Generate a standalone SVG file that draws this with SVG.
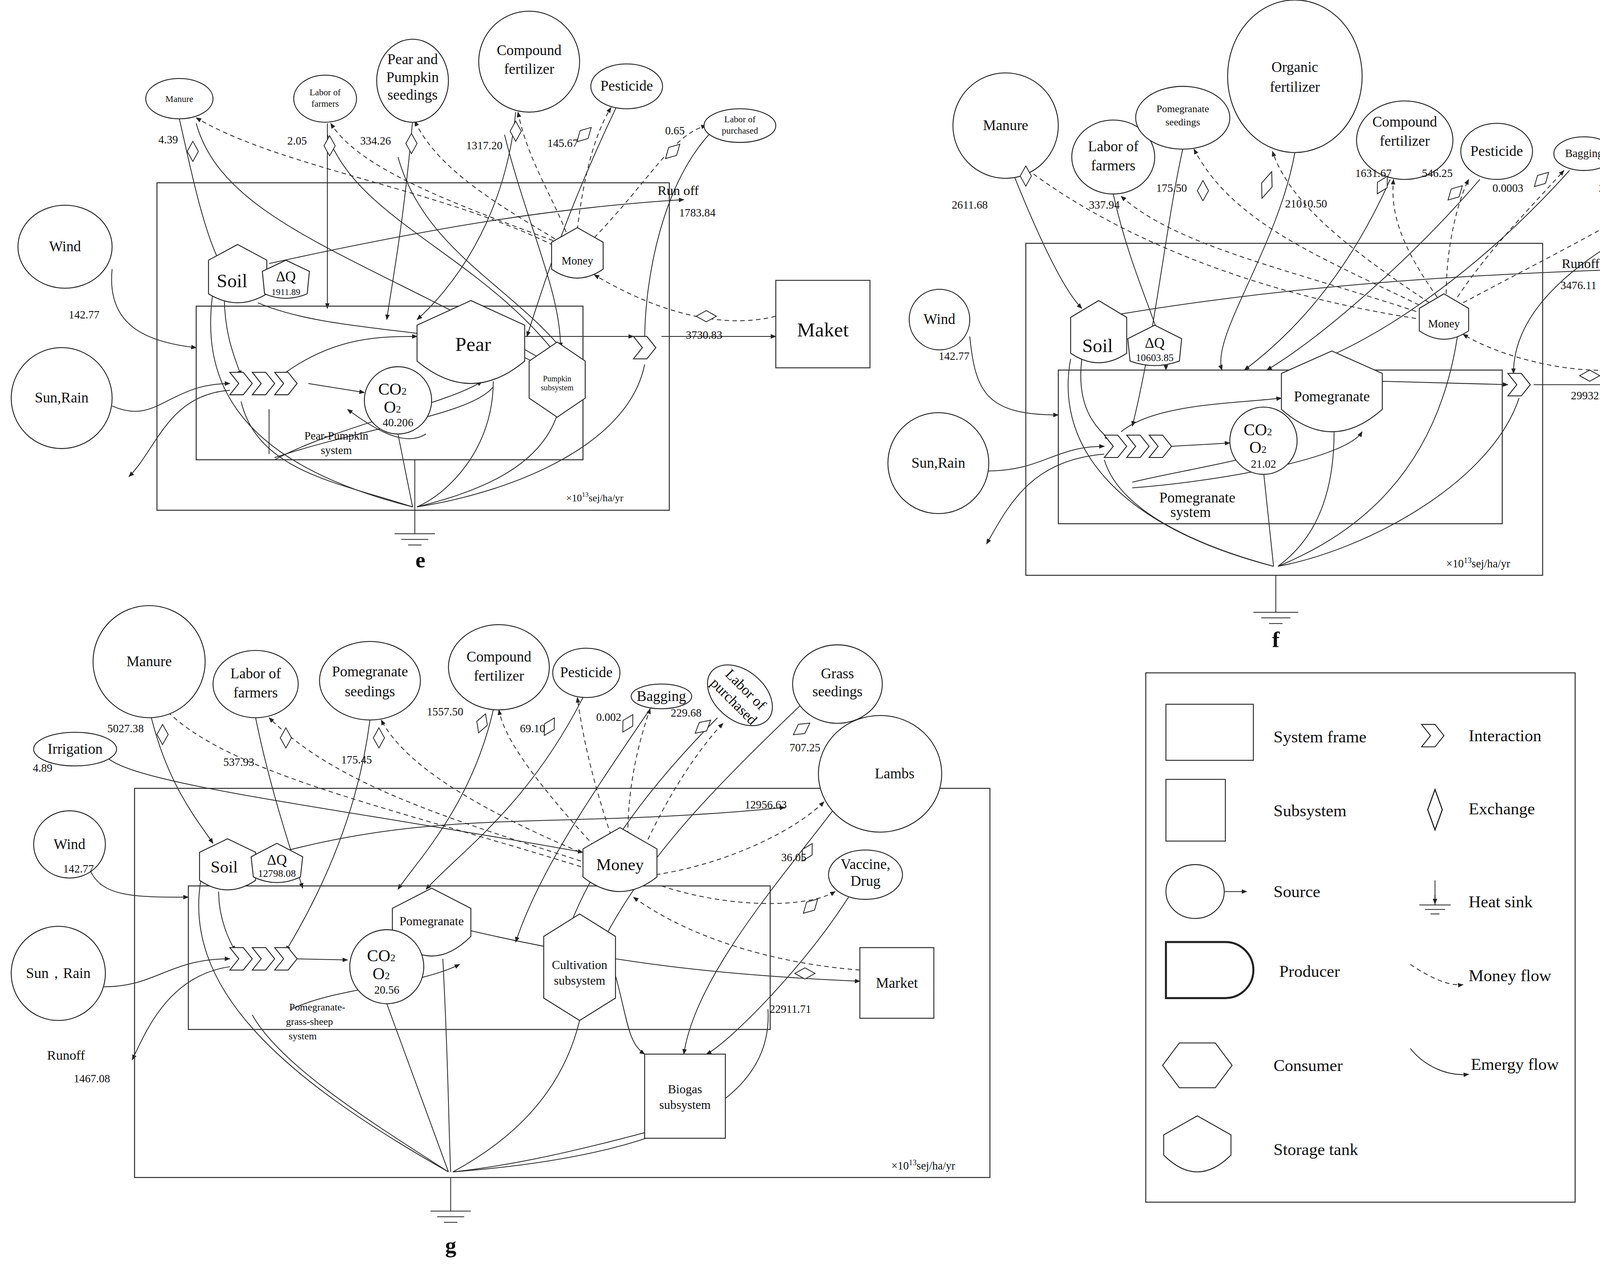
<svg xmlns="http://www.w3.org/2000/svg" xmlns:xlink="http://www.w3.org/1999/xlink" width="4500" height="3240" viewBox="0 0 4500 3240">
<style>
.s{fill:none;stroke:#222;stroke-width:0.7}
.d{fill:none;stroke:#222;stroke-width:0.7;stroke-dasharray:4,3}
.sh{fill:#fff;stroke:#222;stroke-width:0.8}
.fr{fill:none;stroke:#333;stroke-width:0.9}
text{font-family:"Liberation Serif","Times New Roman",serif;fill:#111}
.t{font-size:13px;text-anchor:middle}
.n{font-size:10px;text-anchor:middle}
.sm{font-size:8px;text-anchor:middle}
.lg{font-size:15px}
</style>
<defs>
<marker id="a" viewBox="0 0 10 10" refX="9" refY="5" markerWidth="5" markerHeight="5" markerUnits="userSpaceOnUse" orient="auto"><path d="M0,1 L10,5 L0,9z" fill="#222"/></marker>
<path id="dia" d="M0,-9 L5,0 0,9 -5,0Z" fill="#fff" stroke="#222" stroke-width="0.7"/>
<path id="chev" d="M0,-10 L12,-10 20,0 12,10 0,10 8,0Z" fill="#fff" stroke="#222" stroke-width="0.8"/>
</defs>
<rect width="4500" height="3240" fill="#fff"/>
<g transform="scale(2.87)">
<!-- ================= connectors ================= -->
<g id="connectors" marker-end="url(#a)">
<!-- panel e solid -->
<path class="s" d="M160,106 C170,150 180,200 195,232"/>
<path class="s" d="M100,240 C95,290 130,305 175,310"/>
<path class="s" d="M100,362 C140,380 150,342 205,342"/>
<path class="s" d="M205,348 C150,352 140,400 115,425"/>
<path class="s" d="M292,110 L292,275"/>
<path class="s" d="M368,108 C360,200 350,250 345,285"/>
<path class="s" d="M460,100 C450,200 400,260 372,285"/>
<path class="s" d="M550,95 C500,200 480,270 470,300"/>
<path class="s" d="M640,112 C590,160 575,250 575,305"/>
<path class="s" d="M200,262 C200,300 210,320 215,335"/>
<path class="s" d="M275,342 L325,350"/>
<path class="s" d="M255,332 C300,300 340,300 372,300"/>
<path class="s" d="M468,300 L565,300"/>
<path class="s" d="M590,300 L692,300"/>
<path class="s" d="M240,235 C400,200 500,185 610,178"/>
<path class="s" d="M175,110 C200,200 330,230 500,330"/>
<path class="s" d="M292,120 C320,200 440,230 510,335"/>
<path class="s" d="M230,270 C300,300 420,290 480,325"/>
<path class="s" d="M355,140 C380,230 470,260 515,330"/>
<path class="s" d="M450,120 C470,200 500,260 500,310"/>
<path class="s" d="M380,387 C360,400 330,380 310,365"/>
<path class="s" d="M245,410 C300,380 400,360 430,340"/>
<path class="s" d="M245,408 C330,380 420,370 440,345" marker-end="none"/>
<path class="s" d="M240,405 L240,365" marker-end="none"/>
<path class="s" d="M215,358 C230,420 300,430 368,452" marker-end="none"/>
<path class="s" d="M190,260 C180,330 200,410 368,452" marker-end="none"/>
<path class="s" d="M355,387 L368,452" marker-end="none"/>
<path class="s" d="M440,340 C440,400 400,440 372,452" marker-end="none"/>
<path class="s" d="M497,370 C480,420 420,440 372,452" marker-end="none"/>
<path class="s" d="M575,325 C560,400 450,440 372,452" marker-end="none"/>
<!-- panel e dashed -->
<path class="d" d="M500,222 C400,170 250,150 175,105"/>
<path class="d" d="M500,217 C400,180 320,150 295,110"/>
<path class="d" d="M495,213 C440,180 390,150 370,108"/>
<path class="d" d="M505,207 C490,170 470,140 462,100"/>
<path class="d" d="M515,205 C520,160 530,120 545,96"/>
<path class="d" d="M530,212 C580,160 600,120 630,112"/>
<path class="d" d="M692,282 C640,295 580,275 530,245"/>
<!-- panel f solid -->
<path class="s" d="M905,158 C930,220 950,260 965,275"/>
<path class="s" d="M865,300 C870,350 880,370 944,370"/>
<path class="s" d="M880,420 C930,420 940,398 985,398"/>
<path class="s" d="M985,405 C920,410 900,450 880,485"/>
<path class="s" d="M993,173 C1010,250 1040,300 1040,330"/>
<path class="s" d="M1055,133 C1040,200 1030,300 1010,380"/>
<path class="s" d="M1155,136 C1140,220 1080,300 1090,330"/>
<path class="s" d="M1240,160 C1200,250 1150,300 1110,330"/>
<path class="s" d="M1320,160 C1260,230 1180,300 1130,330"/>
<path class="s" d="M1400,152 C1330,230 1240,300 1160,328"/>
<path class="s" d="M1500,185 C1400,230 1350,280 1350,333"/>
<path class="s" d="M965,320 C960,360 975,380 990,392"/>
<path class="s" d="M1045,398 L1097,395"/>
<path class="s" d="M1233,340 L1345,343"/>
<path class="s" d="M1368,343 L1467,343"/>
<path class="s" d="M1000,280 C1150,255 1300,245 1455,240"/>
<path class="s" d="M1000,385 C1030,360 1100,360 1143,355"/>
<path class="s" d="M1010,430 C1050,420 1120,410 1153,395"/>
<path class="s" d="M1010,435 C1080,430 1200,410 1215,385"/>
<path class="s" d="M985,410 C1000,460 1080,490 1136,505" marker-end="none"/>
<path class="s" d="M955,320 C940,400 1000,470 1136,505" marker-end="none"/>
<path class="s" d="M1127,420 L1136,505" marker-end="none"/>
<path class="s" d="M1190,385 C1190,460 1160,490 1140,505" marker-end="none"/>
<path class="s" d="M1355,355 C1330,430 1220,490 1140,505" marker-end="none"/>
<path class="s" d="M1300,300 C1280,430 1200,480 1140,505" marker-end="none"/>
<!-- panel f dashed -->
<path class="d" d="M1270,285 C1100,260 980,200 915,150"/>
<path class="d" d="M1270,280 C1150,240 1050,220 1000,175"/>
<path class="d" d="M1272,275 C1180,230 1100,200 1065,133"/>
<path class="d" d="M1275,270 C1200,220 1150,180 1135,135"/>
<path class="d" d="M1282,265 C1250,220 1240,190 1243,160"/>
<path class="d" d="M1290,262 C1290,220 1300,180 1310,160"/>
<path class="d" d="M1300,265 C1330,220 1370,180 1395,152"/>
<path class="d" d="M1305,270 C1380,230 1440,200 1478,175"/>
<path class="d" d="M1467,325 C1420,340 1340,320 1305,298"/>
<!-- panel g solid -->
<path class="s" d="M135,640 C150,700 175,730 190,752"/>
<path class="s" d="M95,675 C120,700 300,720 520,760"/>
<path class="s" d="M80,775 C90,800 120,800 168,800"/>
<path class="s" d="M92,880 C140,880 150,855 205,855"/>
<path class="s" d="M205,862 C150,870 130,920 118,945"/>
<path class="s" d="M228,640 C240,700 260,760 270,792"/>
<path class="s" d="M330,642 C320,720 290,790 255,848"/>
<path class="s" d="M440,633 C420,720 370,770 355,793"/>
<path class="s" d="M520,622 C470,720 410,760 380,793"/>
<path class="s" d="M580,632 C520,720 480,780 460,840"/>
<path class="s" d="M640,640 C560,720 520,790 505,835"/>
<path class="s" d="M715,628 C640,700 580,760 540,835"/>
<path class="s" d="M745,720 C700,780 620,870 610,940"/>
<path class="s" d="M760,795 C720,860 650,930 630,940"/>
<path class="s" d="M195,795 C195,820 205,840 210,848"/>
<path class="s" d="M265,855 L310,856"/>
<path class="s" d="M250,760 C400,720 500,740 700,720"/>
<path class="s" d="M420,830 C550,860 650,870 767,875"/>
<path class="s" d="M549,870 C560,910 560,930 575,940"/>
<path class="s" d="M260,900 C300,880 370,880 410,860"/>
<path class="s" d="M225,905 C250,950 330,1000 400,1045" marker-end="none"/>
<path class="s" d="M180,780 C160,880 250,960 400,1045" marker-end="none"/>
<path class="s" d="M345,895 L400,1045" marker-end="none"/>
<path class="s" d="M395,855 C400,950 400,1000 402,1045" marker-end="none"/>
<path class="s" d="M517,910 C500,980 450,1020 404,1045" marker-end="none"/>
<path class="s" d="M575,1010 C500,1030 450,1040 404,1045" marker-end="none"/>
<path class="s" d="M685,900 C690,980 600,1030 404,1045" marker-end="none"/>
<!-- panel g dashed -->
<path class="d" d="M525,775 C350,720 200,690 145,630"/>
<path class="d" d="M525,770 C400,730 300,700 240,640"/>
<path class="d" d="M530,765 C420,720 360,680 340,642"/>
<path class="d" d="M535,760 C480,700 450,660 445,633"/>
<path class="d" d="M545,745 C530,700 520,660 515,622"/>
<path class="d" d="M560,745 C560,700 570,660 580,632"/>
<path class="d" d="M575,755 C600,700 630,660 645,645"/>
<path class="d" d="M585,780 C650,770 710,740 735,715"/>
<path class="d" d="M590,790 C650,810 720,810 745,795"/>
<path class="d" d="M767,865 C700,860 620,840 565,800"/>
</g>
<!-- ================= panel e nodes ================= -->
<g id="e-frame"><rect class="fr" x="140" y="163" width="457" height="292"/><rect class="fr" x="175" y="273" width="345" height="137"/><text class="n" x="300" y="392">Pear-Pumpkin</text><text class="n" x="300" y="405">system</text><text x="505" y="447" style="font-size:9px">×10<tspan dy="-4" style="font-size:6px">13</tspan><tspan dy="4">sej/ha/yr</tspan></text></g>
<g id="e-manure"><ellipse class="sh" cx="160" cy="88" rx="30" ry="18"/><text class="sm" x="160" y="91">Manure</text></g>
<g id="e-labor"><ellipse class="sh" cx="290" cy="88" rx="28" ry="21"/><text class="sm" x="290" y="85">Labor of</text><text class="sm" x="290" y="95">farmers</text></g>
<g id="e-seed"><ellipse class="sh" cx="368" cy="72" rx="32" ry="37"/><text class="t" x="368" y="57">Pear and</text><text class="t" x="368" y="73">Pumpkin</text><text class="t" x="368" y="89">seedings</text></g>
<g id="e-comp"><ellipse class="sh" cx="472" cy="55" rx="45" ry="45"/><text class="t" x="472" y="49">Compound</text><text class="t" x="472" y="66">fertilizer</text></g>
<g id="e-pest"><ellipse class="sh" cx="559" cy="77" rx="32" ry="20"/><text class="t" x="559" y="81">Pesticide</text></g>
<g id="e-labp"><ellipse class="sh" cx="660" cy="112" rx="32" ry="15"/><text class="sm" x="660" y="109">Labor of</text><text class="sm" x="660" y="119">purchased</text></g>
<g id="e-wind"><ellipse class="sh" cx="58" cy="220" rx="42" ry="37"/><text class="t" x="58" y="224">Wind</text></g>
<g id="e-sun"><ellipse class="sh" cx="55" cy="355" rx="45" ry="45"/><text class="t" x="55" y="359">Sun,Rain</text></g>
<g id="e-maket"><rect class="sh" x="692" y="250" width="84" height="78"/><text x="734" y="300" style="font-size:18px;text-anchor:middle">Maket</text></g>
<g id="e-soil"><path class="sh" d="M212,218 L238,232 L238,262 Q212,278 186,262 L186,232Z"/><text x="207" y="256" style="font-size:17px;text-anchor:middle">Soil</text><path class="sh" d="M255,232 L276,242 L274,262 Q255,270 236,262 L234,242Z"/><text class="t" x="255" y="251">ΔQ</text><text class="sm" x="255" y="263">1911.89</text></g>
<g id="e-money"><path class="sh" d="M515,203 L538,216 L538,240 Q515,256 492,240 L492,216Z"/><text class="n" x="515" y="236">Money</text></g>
<g id="e-pear"><path class="sh" d="M420,268 L468,290 L468,322 Q420,362 372,322 L372,290Z"/><text x="422" y="313" style="font-size:18px;text-anchor:middle">Pear</text></g>
<g id="e-co2"><circle class="sh" cx="355" cy="357" r="30"/><text x="350" y="352" style="font-size:15px;text-anchor:middle">CO<tspan style="font-size:9px">2</tspan></text><text x="350" y="368" style="font-size:15px;text-anchor:middle">O<tspan style="font-size:9px">2</tspan></text><text class="n" x="355" y="380">40.206</text></g>
<g id="e-int"><use href="#chev" x="205" y="342"/><use href="#chev" x="225" y="342"/><use href="#chev" x="245" y="342"/><use href="#chev" x="565" y="310"/></g>
<g id="e-pump"><path class="sh" d="M472,322 L497,305 L522,322 L522,355 L497,372 L472,355Z"/><text class="sm" x="497" y="340" style="font-size:7px">Pumpkin</text><text class="sm" x="497" y="348" style="font-size:7px">subsystem</text></g>
<g id="e-sink"><path class="s" d="M370,410 L370,476 M352,476 L388,476 M358,481 L382,481 M364,486 L376,486"/><text x="375" y="506" style="font-size:20px;font-weight:bold;text-anchor:middle">e</text></g>
<g id="e-ex"><use href="#dia" x="172" y="135"/><use href="#dia" x="294" y="130"/><use href="#dia" x="367" y="128"/><use href="#dia" x="460" y="117"/><use href="#dia" transform="translate(521,120) rotate(45)"/><use href="#dia" transform="translate(600,135) rotate(45)"/><use href="#dia" transform="translate(630,282) rotate(90)"/></g>
<g id="e-num" class="n"><text class="n" x="150" y="128">4.39</text><text class="n" x="265" y="129">2.05</text><text class="n" x="335" y="129">334.26</text><text class="n" x="432" y="133">1317.20</text><text class="n" x="502" y="131">145.67</text><text class="n" x="602" y="120">0.65</text><text x="605" y="174" style="font-size:12px">Run off</text><text class="n" x="622" y="193">1783.84</text><text class="n" x="75" y="284">142.77</text><text class="n" x="628" y="302">3730.83</text></g>
<!-- ================= panel f nodes ================= -->
<g id="f-frame"><rect class="fr" x="915" y="217" width="461" height="296"/><rect class="fr" x="944" y="330" width="396" height="137"/><text class="t" x="1068" y="448">Pomegranate</text><text class="t" x="1062" y="461">system</text><text x="1290" y="506" style="font-size:10px">×10<tspan dy="-4" style="font-size:7px">13</tspan><tspan dy="4">sej/ha/yr</tspan></text></g>
<g id="f-manure"><ellipse class="sh" cx="897" cy="112" rx="47" ry="47"/><text class="t" x="897" y="116">Manure</text></g>
<g id="f-labor"><ellipse class="sh" cx="993" cy="140" rx="37" ry="33"/><text class="t" x="993" y="135">Labor of</text><text class="t" x="993" y="152">farmers</text></g>
<g id="f-seed"><ellipse class="sh" cx="1055" cy="105" rx="42" ry="28"/><text class="sm" x="1055" y="100" style="font-size:9px">Pomegranate</text><text class="sm" x="1055" y="112" style="font-size:9px">seedings</text></g>
<g id="f-org"><ellipse class="sh" cx="1155" cy="68" rx="60" ry="68"/><text class="t" x="1155" y="64">Organic</text><text class="t" x="1155" y="82">fertilizer</text></g>
<g id="f-comp"><ellipse class="sh" cx="1253" cy="125" rx="43" ry="35"/><text class="t" x="1253" y="113">Compound</text><text class="t" x="1253" y="130">fertilizer</text></g>
<g id="f-pest"><ellipse class="sh" cx="1335" cy="135" rx="32" ry="25"/><text class="t" x="1335" y="139">Pesticide</text></g>
<g id="f-bag"><ellipse class="sh" cx="1413" cy="137" rx="27" ry="15"/><text class="n" x="1413" y="140">Bagging</text></g>
<g id="f-labp"><ellipse class="sh" cx="1518" cy="160" rx="40" ry="25"/><text class="n" x="1518" y="156">Labor of</text><text class="n" x="1518" y="169">purchased</text></g>
<g id="f-wind"><ellipse class="sh" cx="838" cy="285" rx="27" ry="27"/><text class="t" x="838" y="289">Wind</text></g>
<g id="f-sun"><ellipse class="sh" cx="837" cy="413" rx="45" ry="45"/><text class="t" x="837" y="417">Sun,Rain</text></g>
<g id="f-maket"><rect class="sh" x="1467" y="300" width="83" height="85"/><text x="1508" y="352" style="font-size:18px;text-anchor:middle">Maket</text></g>
<g id="f-soil"><path class="sh" d="M980,268 L1005,283 L1005,315 Q980,332 955,315 L955,283Z"/><text x="979" y="314" style="font-size:17px;text-anchor:middle">Soil</text><path class="sh" d="M1030,290 L1054,302 L1052,322 Q1030,330 1008,322 L1006,302Z"/><text class="t" x="1030" y="310">ΔQ</text><text class="sm" x="1030" y="322" style="font-size:9px">10603.85</text></g>
<g id="f-money"><path class="sh" d="M1288,262 L1310,275 L1310,295 Q1288,310 1266,295 L1266,275Z"/><text class="n" x="1288" y="292">Money</text></g>
<g id="f-pome"><path class="sh" d="M1188,313 L1233,333 L1233,365 Q1188,405 1143,365 L1143,333Z"/><text class="t" x="1188" y="358">Pomegranate</text></g>
<g id="f-co2"><circle class="sh" cx="1127" cy="393" r="30"/><text x="1122" y="388" style="font-size:15px;text-anchor:middle">CO<tspan style="font-size:9px">2</tspan></text><text x="1122" y="404" style="font-size:15px;text-anchor:middle">O<tspan style="font-size:9px">2</tspan></text><text class="n" x="1127" y="417">21.02</text></g>
<g id="f-int"><use href="#chev" x="985" y="398"/><use href="#chev" x="1005" y="398"/><use href="#chev" x="1025" y="398"/><use href="#chev" x="1345" y="343"/></g>
<g id="f-sink"><path class="s" d="M1138,513 L1138,546 M1118,546 L1158,546 M1125,551 L1151,551 M1132,556 L1144,556"/><text x="1138" y="577" style="font-size:20px;font-weight:bold;text-anchor:middle">f</text></g>
<g id="f-ex"><use href="#dia" x="915" y="157"/><use href="#dia" x="1073" y="170"/><use href="#dia" transform="translate(1130,165) rotate(20) scale(1,1.4)"/><use href="#dia" transform="translate(1233,165) rotate(30)"/><use href="#dia" transform="translate(1298,172) rotate(45)"/><use href="#dia" transform="translate(1375,160) rotate(45)"/><use href="#dia" transform="translate(1443,183) rotate(55)"/><use href="#dia" transform="translate(1418,335) rotate(90)"/></g>
<g id="f-num"><text class="n" x="865" y="186">2611.68</text><text class="n" x="985" y="186">337.94</text><text class="n" x="1045" y="171">175.50</text><text class="n" x="1165" y="185">21010.50</text><text class="n" x="1225" y="158">1631.67</text><text class="n" x="1282" y="158">546.25</text><text class="n" x="1345" y="171">0.0003</text><text class="n" x="1440" y="171">229.68</text><text x="1393" y="239" style="font-size:12px">Runoff</text><text class="n" x="1408" y="258">3476.11</text><text class="n" x="851" y="321">142.77</text><text class="n" x="1420" y="356">29932.42</text></g>
<!-- ================= panel g nodes ================= -->
<g id="g-frame"><rect class="fr" x="120" y="703" width="763" height="347"/><rect class="fr" x="168" y="790" width="519" height="128"/><text class="sm" x="283" y="901" style="font-size:9px">Pomegranate-</text><text class="sm" x="276" y="914" style="font-size:9px">grass-sheep</text><text class="sm" x="270" y="927" style="font-size:9px">system</text><text x="795" y="1043" style="font-size:10px">×10<tspan dy="-4" style="font-size:7px">13</tspan><tspan dy="4">sej/ha/yr</tspan></text></g>
<g id="g-manure"><ellipse class="sh" cx="133" cy="590" rx="50" ry="50"/><text class="t" x="133" y="594">Manure</text></g>
<g id="g-labor"><ellipse class="sh" cx="228" cy="610" rx="38" ry="30"/><text class="t" x="228" y="605">Labor of</text><text class="t" x="228" y="622">farmers</text></g>
<g id="g-seed"><ellipse class="sh" cx="330" cy="607" rx="45" ry="35"/><text class="t" x="330" y="603">Pomegranate</text><text class="t" x="330" y="621">seedings</text></g>
<g id="g-comp"><ellipse class="sh" cx="445" cy="595" rx="45" ry="38"/><text class="t" x="445" y="590">Compound</text><text class="t" x="445" y="607">fertilizer</text></g>
<g id="g-pest"><ellipse class="sh" cx="523" cy="600" rx="30" ry="22"/><text class="t" x="523" y="604">Pesticide</text></g>
<g id="g-bag"><ellipse class="sh" cx="590" cy="621" rx="27" ry="11"/><text class="t" x="590" y="625">Bagging</text></g>
<g id="g-labp"><ellipse class="sh" cx="660" cy="620" rx="33" ry="22" transform="rotate(40,660,620)"/><text class="t" transform="translate(660,620) rotate(45)" x="0" y="-3">Labor of</text><text class="t" transform="translate(660,620) rotate(45)" x="0" y="12">purchased</text></g>
<g id="g-grass"><ellipse class="sh" cx="747" cy="610" rx="40" ry="35"/><text class="t" x="747" y="605">Grass</text><text class="t" x="747" y="621">seedings</text></g>
<g id="g-lambs"><ellipse class="sh" cx="785" cy="690" rx="55" ry="52"/><text class="t" x="798" y="694">Lambs</text></g>
<g id="g-irr"><ellipse class="sh" cx="67" cy="668" rx="37" ry="15"/><text class="t" x="67" y="672">Irrigation</text></g>
<g id="g-wind"><ellipse class="sh" cx="62" cy="753" rx="32" ry="30"/><text class="t" x="62" y="757">Wind</text></g>
<g id="g-sun"><ellipse class="sh" cx="52" cy="868" rx="42" ry="42"/><text class="t" x="52" y="872">Sun，Rain</text></g>
<g id="g-vac"><ellipse class="sh" cx="772" cy="780" rx="33" ry="22"/><text class="t" x="772" y="775">Vaccine,</text><text class="t" x="772" y="790">Drug</text></g>
<g id="g-market"><rect class="sh" x="767" y="845" width="66" height="63"/><text class="t" x="800" y="881">Market</text></g>
<g id="g-soil"><path class="sh" d="M203,748 L228,760 L228,785 Q203,802 178,785 L178,760Z"/><text x="200" y="778" style="font-size:15px;text-anchor:middle">Soil</text><path class="sh" d="M247,752 L270,764 L268,782 Q247,792 226,782 L224,764Z"/><text class="t" x="247" y="771">ΔQ</text><text class="sm" x="247" y="782" style="font-size:9px">12798.08</text></g>
<g id="g-money"><path class="sh" d="M553,738 L586,757 L586,782 Q553,808 520,782 L520,757Z"/><text x="553" y="776" style="font-size:15px;text-anchor:middle">Money</text></g>
<g id="g-pome"><path class="sh" d="M385,792 L420,810 L420,835 Q385,870 350,835 L350,810Z"/><text class="t" x="385" y="825" style="font-size:11px">Pomegranate</text></g>
<g id="g-co2"><circle class="sh" cx="345" cy="862" r="33"/><text x="340" y="857" style="font-size:15px;text-anchor:middle">CO<tspan style="font-size:9px">2</tspan></text><text x="340" y="873" style="font-size:15px;text-anchor:middle">O<tspan style="font-size:9px">2</tspan></text><text class="n" x="345" y="886">20.56</text></g>
<g id="g-int"><use href="#chev" x="205" y="855"/><use href="#chev" x="225" y="855"/><use href="#chev" x="245" y="855"/></g>
<g id="g-cult"><path class="sh" d="M485,835 L517,815 L549,835 L549,890 L517,910 L485,890Z"/><text class="t" x="517" y="864" style="font-size:11px">Cultivation</text><text class="t" x="517" y="878" style="font-size:11px">subsystem</text></g>
<g id="g-biogas"><rect class="sh" x="575" y="940" width="72" height="75"/><text class="t" x="611" y="975" style="font-size:11px">Biogas</text><text class="t" x="611" y="989" style="font-size:11px">subsystem</text></g>
<g id="g-sink"><path class="s" d="M402,1050 L402,1080 M384,1080 L420,1080 M390,1085 L414,1085 M396,1090 L408,1090"/><text x="402" y="1117" style="font-size:20px;font-weight:bold;text-anchor:middle">g</text></g>
<g id="g-ex"><use href="#dia" x="145" y="655"/><use href="#dia" x="255" y="658"/><use href="#dia" x="338" y="658"/><use href="#dia" transform="translate(430,645) rotate(20)"/><use href="#dia" transform="translate(490,648) rotate(30)"/><use href="#dia" transform="translate(560,645) rotate(30)"/><use href="#dia" transform="translate(627,648) rotate(50)"/><use href="#dia" transform="translate(715,650) rotate(55)"/><use href="#dia" transform="translate(720,760) rotate(30)"/><use href="#dia" transform="translate(723,808) rotate(45)"/><use href="#dia" transform="translate(718,868) rotate(90)"/></g>
<g id="g-num"><text class="n" x="112" y="653">5027.38</text><text class="n" x="213" y="683">537.93</text><text class="n" x="318" y="681">175.45</text><text class="n" x="397" y="638">1557.50</text><text class="n" x="475" y="653">69.10</text><text class="n" x="543" y="643">0.002</text><text class="n" x="612" y="639">229.68</text><text class="n" x="718" y="670">707.25</text><text class="n" x="683" y="721">12956.63</text><text class="n" x="708" y="768">36.05</text><text class="n" x="38" y="688">4.89</text><text class="n" x="70" y="778">142.77</text><text x="42" y="945" style="font-size:12px">Runoff</text><text class="n" x="82" y="965">1467.08</text><text class="n" x="705" y="903">22911.71</text></g>
<!-- ================= legend ================= -->
<g id="legend">
<rect class="fr" x="1022" y="600" width="383" height="472"/>
<rect class="sh" x="1040" y="628" width="78" height="50"/><text class="lg" x="1136" y="662">System frame</text>
<rect class="sh" x="1040" y="695" width="53" height="55"/><text class="lg" x="1136" y="728">Subsystem</text>
<ellipse class="sh" cx="1066" cy="795" rx="26" ry="24"/><path class="s" d="M1092,795 L1112,795" marker-end="url(#a)"/><text class="lg" x="1136" y="800">Source</text>
<path d="M1040,840 L1093,840 A25,25 0 0 1 1093,890 L1040,890Z" fill="#fff" stroke="#222" stroke-width="1.8"/><text class="lg" x="1141" y="871">Producer</text>
<path class="sh" d="M1037,950 L1052,930 L1084,930 L1099,950 L1084,970 L1052,970Z"/><text class="lg" x="1136" y="955">Consumer</text>
<path class="sh" d="M1068,995 L1098,1012 L1098,1030 Q1068,1060 1038,1030 L1038,1012Z"/><text class="lg" x="1136" y="1030">Storage tank</text>
<use href="#chev" x="1268" y="656"/><text class="lg" x="1310" y="661">Interaction</text>
<use href="#dia" transform="translate(1280,722) scale(1.3,2)"/><text class="lg" x="1310" y="726">Exchange</text>
<path class="s" d="M1280,785 L1280,807 M1266,807 L1294,807 M1271,811 L1289,811 M1276,815 L1284,815"/><path class="s" d="M1280,798 L1280,806" marker-end="url(#a)"/><text class="lg" x="1310" y="809">Heat sink</text>
<path class="d" d="M1258,860 C1270,868 1290,880 1305,878" marker-end="url(#a)"/><text class="lg" x="1310" y="875">Money flow</text>
<path class="s" d="M1258,935 C1270,950 1290,960 1310,958" marker-end="url(#a)"/><text class="lg" x="1312" y="954">Emergy flow</text>
</g>
</g>
</svg>
